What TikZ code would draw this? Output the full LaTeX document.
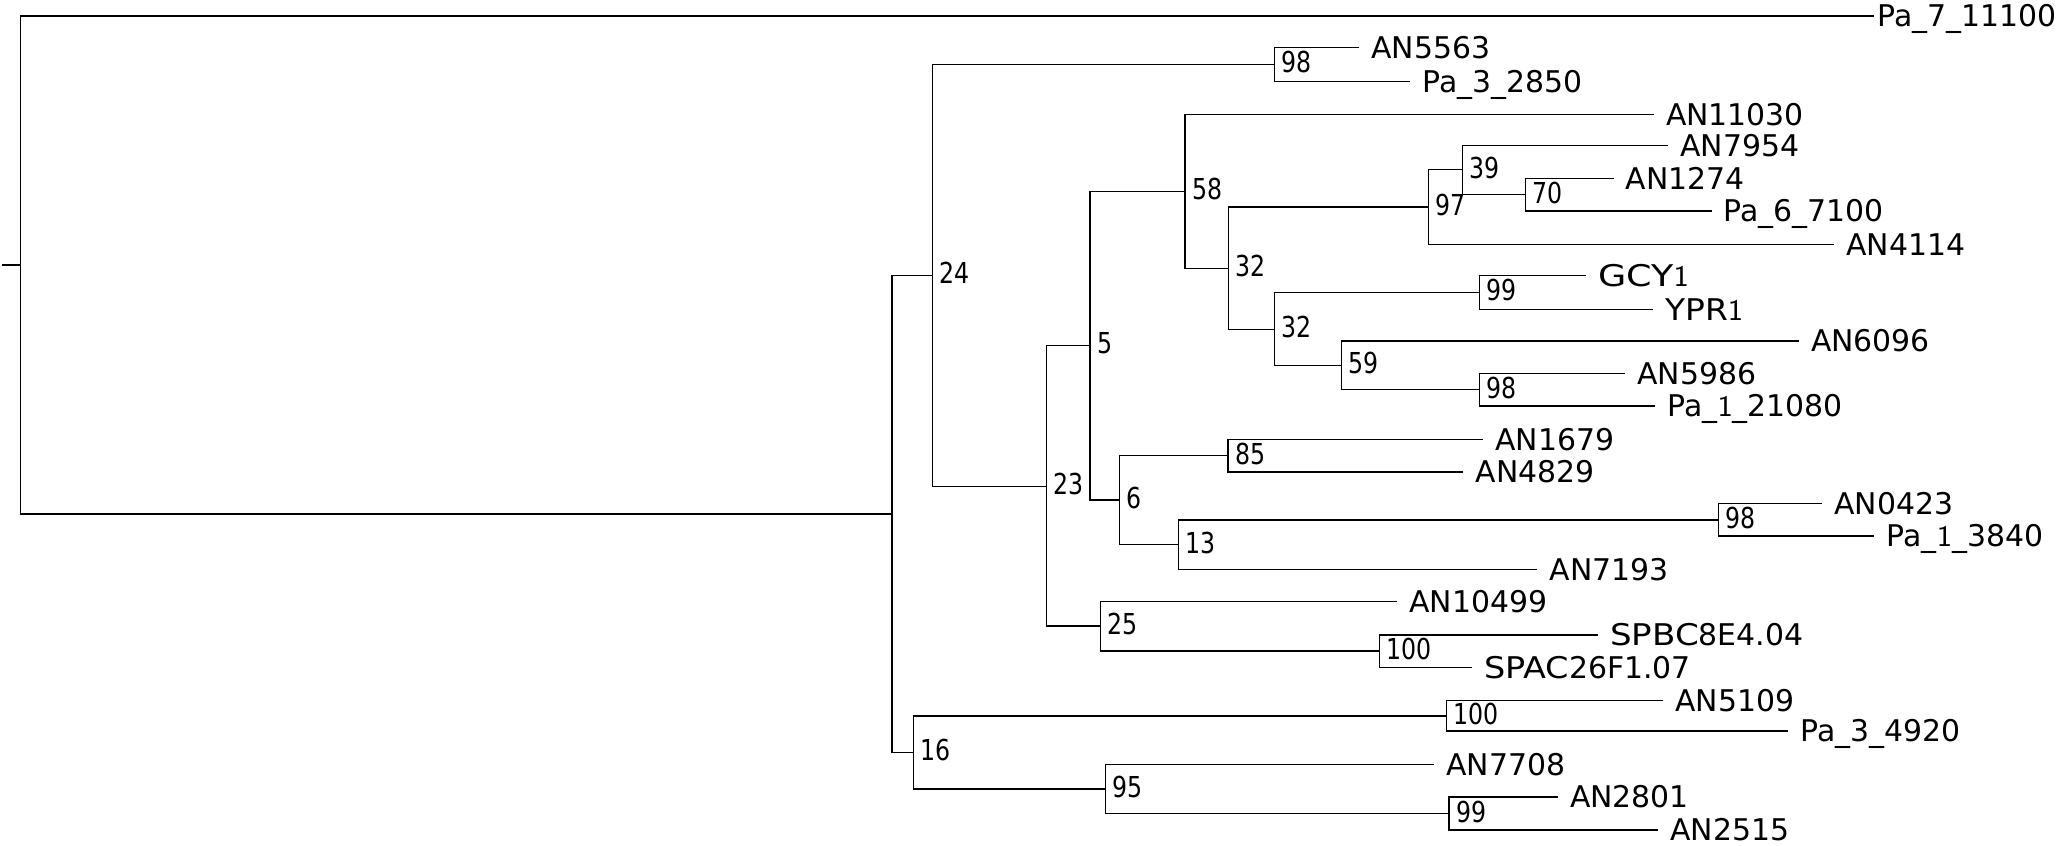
\documentclass[tikz,border=0pt]{standalone}
\usepackage{graphicx}
\usepackage{fontspec}
\setmainfont{DejaVu Sans}
\newfontfamily\bootfont[FakeStretch=0.82]{DejaVu Sans}
\newcommand{\thinone}{\textsf{1}}
\newcommand{\widened}[2]{\scalebox{#1}[1]{#2}}

\begin{document}
\begin{tikzpicture}[x=0.01cm,y=-0.01cm,line width=0.45pt,
  leaf/.style={anchor=west,inner xsep=0.115cm,inner ysep=0pt,text height=0.218cm,text depth=0pt,
    font=\fontsize{8.5}{10}\selectfont},
  boot/.style={anchor=west,inner xsep=0.065cm,inner ysep=0pt,text height=0.21cm,text depth=0.04cm,
    font=\bootfont\fontsize{8.2}{10}\selectfont}]
\useasboundingbox (0,0) rectangle (2063,845);
% inner nodes: bootstrap value right of the vertical bar
\node[boot] (root) at (20.5,264.9) {};
\node[boot] (nA) at (892.2,513.8) {};
\node[boot] (n24) at (932.6,275.3) {24};
\node[boot] (n16) at (913.4,752.3) {16};
\node[boot] (n98a) at (1274.6,64.3) {98};
\node[boot] (n23) at (1046.4,486.3) {23};
\node[boot] (n5) at (1089.7,345.3) {5};
\node[boot] (n25) at (1100.4,626.2) {25};
\node[boot] (n58) at (1185,191.3) {58};
\node[boot] (n6) at (1119.6,500) {6};
\node[boot] (n32a) at (1228.6,268.3) {32};
\node[boot] (n97) at (1428.6,207) {97};
\node[boot] (n39) at (1462.5,169.6) {39};
\node[boot] (n70) at (1525.4,194.6) {70};
\node[boot] (n32b) at (1274.6,329.3) {32};
\node[boot] (n99a) at (1479.5,292.4) {99};
\node[boot] (n59) at (1341.5,365.3) {59};
\node[boot] (n98b) at (1479.5,389.7) {98};
\node[boot] (n85) at (1227.7,455.7) {85};
\node[boot] (n13) at (1178.6,544.6) {13};
\node[boot] (n98c) at (1718.4,519.7) {98};
\node[boot] (n100a) at (1379.5,651) {100};
\node[boot] (n100b) at (1446.4,715.7) {100};
\node[boot] (n95) at (1105.4,788.9) {95};
\node[boot] (n99b) at (1448.7,813.5) {99};
% leaves, placed at the tip of their branch
\node[leaf,inner xsep=0.035cm] (pa7) at (1873.6,16) {Pa\_7\_11100};
\node[leaf] (an5563) at (1359,47.3) {AN5563};
\node[leaf] (pa3a) at (1410,81.3) {Pa\_3\_2850};
\node[leaf] (an11030) at (1653.7,114.3) {AN11030};
\node[leaf] (an7954) at (1668,145.3) {AN7954};
\node[leaf] (an1274) at (1613.5,178.3) {AN1274};
\node[leaf] (pa6) at (1711.6,211) {Pa\_6\_7100};
\node[leaf] (an4114) at (1834,244.3) {AN4114};
\node[leaf] (gcy1) at (1586,275.5) {\widened{1.22}{GCY}\thinone};
\node[leaf] (ypr1) at (1652.9,309.3) {\widened{1.1}{YPR}\thinone};
\node[leaf] (an6096) at (1798.7,341) {AN6096};
\node[leaf] (an5986) at (1625,373.3) {AN5986};
\node[leaf] (pa1a) at (1655,406) {Pa\_\thinone\_21080};
\node[leaf] (an1679) at (1482.9,439.3) {AN1679};
\node[leaf] (an4829) at (1463.4,472) {AN4829};
\node[leaf] (an0423) at (1822,503.3) {AN0423};
\node[leaf] (pa1b) at (1874.4,536) {Pa\_\thinone\_3840};
\node[leaf] (an7193) at (1537.4,569.3) {AN7193};
\node[leaf] (an10499) at (1396.9,601.3) {AN10499};
\node[leaf] (spbc) at (1597.9,634.7) {\widened{1.14}{SPBC}8E4.04};
\node[leaf] (spac) at (1471.9,667.3) {\widened{1.12}{SPAC}26F1.07};
\node[leaf] (an5109) at (1663,700.3) {AN5109};
\node[leaf] (pa3b) at (1788,731) {Pa\_3\_4920};
\node[leaf] (an7708) at (1434,764.3) {AN7708};
\node[leaf] (an2801) at (1557.7,797) {AN2801};
\node[leaf] (an2515) at (1658,830) {AN2515};
% root stub
\coordinate (stub) at (2,264.9);
\draw (stub) -- (root.west);
% elbow branches parent -> child
\foreach \p/\c in {root/pa7, root/nA, nA/n24, nA/n16,
  n24/n98a, n24/n23, n98a/an5563, n98a/pa3a,
  n23/n5, n23/n25, n5/n58, n5/n6,
  n58/an11030, n58/n32a, n32a/n97, n32a/n32b,
  n97/n39, n97/an4114, n39/an7954, n39/n70, n70/an1274, n70/pa6,
  n32b/n99a, n32b/n59, n99a/gcy1, n99a/ypr1,
  n59/an6096, n59/n98b, n98b/an5986, n98b/pa1a,
  n6/n85, n6/n13, n85/an1679, n85/an4829,
  n13/n98c, n13/an7193, n98c/an0423, n98c/pa1b,
  n25/an10499, n25/n100a, n100a/spbc, n100a/spac,
  n16/n100b, n16/n95, n100b/an5109, n100b/pa3b,
  n95/an7708, n95/n99b, n99b/an2801, n99b/an2515}{
  \draw (\p.west) |- (\c.west);
}
\end{tikzpicture}
\end{document}
